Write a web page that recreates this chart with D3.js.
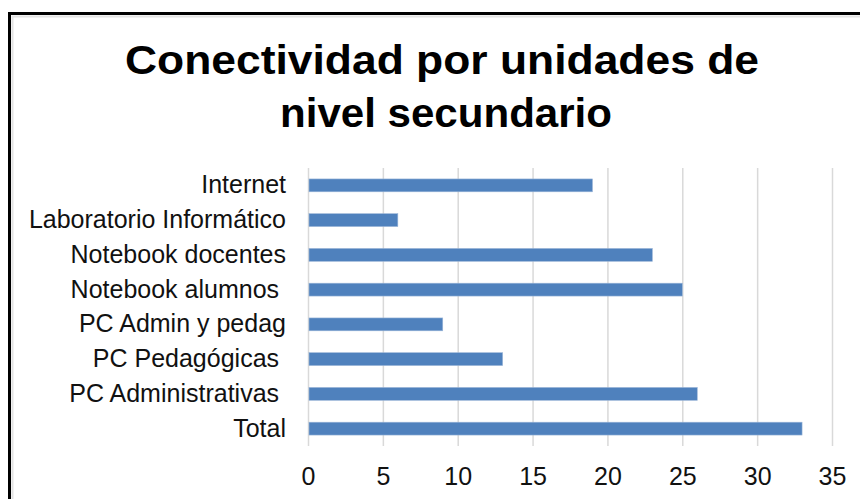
<!DOCTYPE html>
<html>
<head>
<meta charset="utf-8">
<script src="https://cdn.jsdelivr.net/npm/d3@7"></script>
<style>
  body { margin: 0; background: #fff; }
  svg { display: block; font-family: "Liberation Sans", Arial, sans-serif; }
  .tick text { white-space: pre; }
</style>
</head>
<body>
<div id="chart-bar"></div>
<script>

// data
var categories = ["Internet", "Laboratorio Informático", "Notebook docentes",
    "Notebook alumnos ", "PC Admin y pedag", "PC Pedagógicas ",
    "PC Administrativas ", "Total"];
var values = [19, 6, 23, 25, 9, 13, 26, 33];
var xTicks = [0, 5, 10, 15, 20, 25, 30, 35];
var titleLines = ["Conectividad por unidades de", "nivel secundario"];

var data = categories.map(function(c, i) { return {name: c, value: values[i]}; });

drawGraph(data);

function drawGraph(data) {

    var width = 860, height = 499;
    var margin = {top: 168, right: 28, bottom: 53, left: 308};

    var svg = d3.select("#chart-bar").append("svg")
        .attr("width", width)
        .attr("height", height);

    // frame round the chart, cut off at right and bottom
    svg.append("rect")
        .attr("x", 12.5).attr("y", 16.5)
        .attr("width", width).attr("height", height)
        .attr("fill", "none")
        .attr("stroke", "#e3e3e3")
        .attr("stroke-width", 2);
    svg.append("rect")
        .attr("x", 9.5).attr("y", 13.5)
        .attr("width", width).attr("height", height)
        .attr("fill", "none")
        .attr("stroke", "#000")
        .attr("stroke-width", 3);

    // title, two lines
    var titleX = [442, 446];
    var titleY = [74, 127];
    var titleW = [634, 332];
    svg.selectAll(".title")
        .data(titleLines)
      .enter().append("text")
        .attr("class", "title")
        .attr("x", function(d, i) { return titleX[i]; })
        .attr("y", function(d, i) { return titleY[i]; })
        .attr("text-anchor", "middle")
        .attr("textLength", function(d, i) { return titleW[i]; })
        .attr("lengthAdjust", "spacingAndGlyphs")
        .style("font-size", "41px")
        .style("font-weight", "bold")
        .attr("fill", "#000")
        .text(function(d) { return d; });

    // set the ranges
    var x = d3.scaleLinear()
        .domain([0, d3.max(xTicks)])
        .range([margin.left, width - margin.right]);
    var y = d3.scaleBand()
        .domain(categories)
        .range([margin.top, height - margin.bottom])
        .paddingInner(0.63)
        .paddingOuter(0.315);

    // vertical gridlines
    svg.append("g")
        .selectAll("line")
        .data(xTicks)
      .enter().append("line")
        .attr("x1", function(d) { return x(d) + 0.5; })
        .attr("x2", function(d) { return x(d) + 0.5; })
        .attr("y1", margin.top)
        .attr("y2", height - margin.bottom)
        .attr("stroke", "#d9d9d9")
        .attr("stroke-width", 1.5);

    // bars
    svg.append("g")
        .selectAll("rect")
        .data(data)
      .enter().append("rect")
        .attr("x", x(0) + 1)
        .attr("y", function(d) { return y(d.name); })
        .attr("width", function(d) { return x(d.value) - x(0) - 1; })
        .attr("height", y.bandwidth())
        .attr("fill", "#4f81bd")
        .attr("stroke", "#9ab5d8")
        .attr("stroke-width", 0.6);

    // Add the Y Axis
    var yAxis = svg.append("g")
        .attr("transform", "translate(" + margin.left + ",0)")
        .call(d3.axisLeft(y).tickSize(0).tickPadding(22));
    yAxis.select(".domain").remove();
    yAxis.selectAll("text")
        .style("font-size", "25px")
        .attr("fill", "#111");

    // Add the X Axis
    var xAxis = svg.append("g")
        .attr("transform", "translate(0," + (height - margin.bottom) + ")")
        .call(d3.axisBottom(x).tickValues(xTicks).tickSize(0).tickPadding(21));
    xAxis.select(".domain").remove();
    xAxis.selectAll("text")
        .style("font-size", "25px")
        .attr("fill", "#111");
}

</script>
</body>
</html>
